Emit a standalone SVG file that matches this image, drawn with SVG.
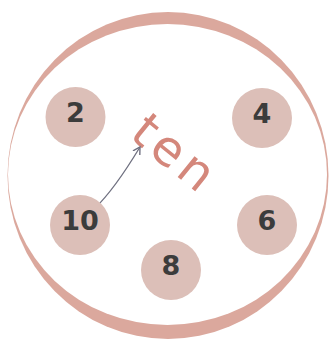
<svg xmlns="http://www.w3.org/2000/svg" width="329" height="346" viewBox="0 0 329 346">
<style>
.node{fill:#dcbfb8}
.num{font-family:"DejaVu Sans",sans-serif;font-weight:bold;font-size:27px;fill:#3c3c3c;text-anchor:middle}
.word{font-family:"DejaVu Sans",sans-serif;font-size:49px;fill:#d4877b;letter-spacing:5px}
</style>
<defs>
<marker id="ah" markerWidth="9" markerHeight="10" refX="7" refY="5" orient="auto" markerUnits="userSpaceOnUse">
<path d="M0,1 L7,5 L0,9" fill="none" stroke="#6f7080" stroke-width="1.4"/>
</marker>
</defs>
<rect width="329" height="346" fill="#ffffff"/>
<ellipse cx="168" cy="175.5" rx="160.5" ry="163.5" fill="#dba89d"/>
<ellipse cx="167.5" cy="174.5" rx="159.5" ry="150.5" fill="#ffffff"/>
<g id="label-ten">
<text class="word" transform="translate(128,137) rotate(39)">ten</text>
</g>
<g id="connectors">
<path d="M95,208 Q114,190 140,147" fill="none" stroke="#6f7080" stroke-width="1.3" marker-end="url(#ah)"/>
</g>
<g id="n2"><circle class="node" cx="75.5" cy="117" r="30"/><text class="num" x="75.5" y="122">2</text></g>
<g id="n4"><circle class="node" cx="262" cy="118" r="30"/><text class="num" x="262" y="123">4</text></g>
<g id="n10"><circle class="node" cx="80" cy="225" r="30"/><text class="num" x="80" y="230">10</text></g>
<g id="n6"><circle class="node" cx="267" cy="225" r="30"/><text class="num" x="267" y="230">6</text></g>
<g id="n8"><circle class="node" cx="171" cy="270" r="30"/><text class="num" x="171" y="275">8</text></g>
</svg>
